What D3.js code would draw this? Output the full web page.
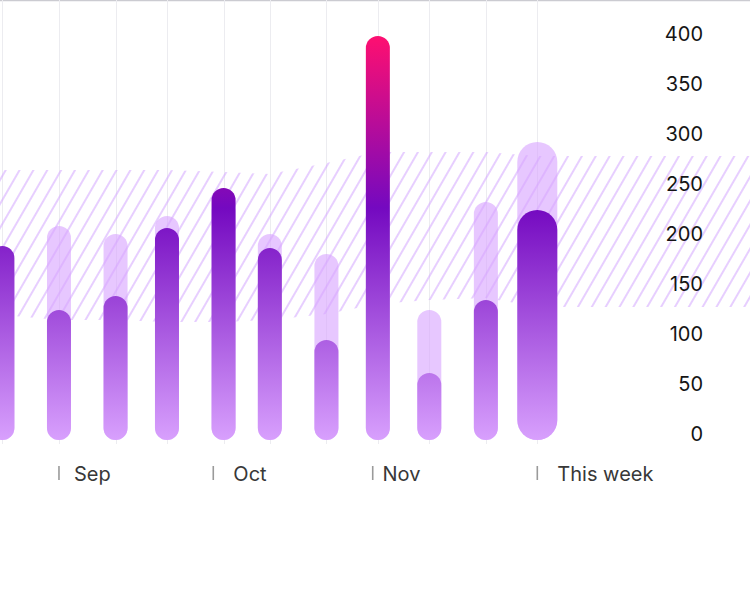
<!DOCTYPE html>
<html>
<head>
<meta charset="utf-8">
<script src="https://cdn.jsdelivr.net/npm/d3@7"></script>
<style>
  html, body { margin: 0; padding: 0; background: #fff; }
  svg { display: block; font-family: Inter, "Noto Sans", sans-serif; }
</style>
</head>
<body>
<svg id="chart" width="750" height="594"></svg>
<script>
// ---- data ----
const periods   = ["2023-08-21","2023-09-01","2023-09-12","2023-09-22","2023-10-03","2023-10-12","2023-10-23","2023-11-02","2023-11-12","2023-11-23","2023-12-03"];
const actual    = [194, 130, 144, 212, 252, 192, 100, 404, 67, 140, 230];
const target    = [180, 214, 206, 224, 240, 206, 186, 200, 130, 238, 298];
const bandHigh  = [270, 270, 270, 270, 268, 266, 277, 288, 288, 288, 284];
const bandLow   = [125, 120, 120, 118, 118, 120, 126, 136, 140, 142, 133];
const yTicks    = [0, 50, 100, 150, 200, 250, 300, 350, 400];
const monthTicks  = ["2023-09-01","2023-10-01","2023-11-01","2023-12-03"];
const labelDates  = ["2023-09-04","2023-10-05","2023-11-03","2023-12-07"];
const monthLabels = ["Sep","Oct","Nov","This week"];

// ---- layout ----
const W = 750, H = 594;
const parse = d3.utcParse("%Y-%m-%d");
const dates = periods.map(parse);
const svg = d3.select("#chart");

const x = d3.scaleUtc().domain([dates[0], dates[dates.length-1]]).range([2.4, 537.3]);
const y = d3.scaleLinear().domain([0, 400]).range([440, 40]);

const defs = svg.append("defs");
const pat = defs.append("pattern")
  .attr("id", "hatch").attr("patternUnits", "userSpaceOnUse")
  .attr("width", 12).attr("height", 12)
  .attr("patternTransform", "rotate(30)");
pat.append("line").attr("x1", 6).attr("x2", 6).attr("y1", 0).attr("y2", 12)
  .attr("stroke", "#d3a6ff").attr("stroke-width", 1.1);

const grad = defs.append("linearGradient")
  .attr("id", "barGrad").attr("gradientUnits", "userSpaceOnUse")
  .attr("x1", 0).attr("x2", 0).attr("y1", y(0)).attr("y2", y(400));
[[0, "#d8a0fd"], [0.58, "#7409c0"], [1, "#fb0f72"]].forEach(([o, c]) =>
  grad.append("stop").attr("offset", o).attr("stop-color", c));

// top border
svg.append("line").attr("x1", 0).attr("x2", W).attr("y1", 0.5).attr("y2", 0.5)
  .attr("stroke", "#cbcbd1").attr("stroke-width", 1.5);

// gridlines
svg.append("g").selectAll("line").data(dates).join("line")
  .attr("x1", d => Math.round(x(d)) + 0.5).attr("x2", d => Math.round(x(d)) + 0.5)
  .attr("y1", 0).attr("y2", y(0) + 4)
  .attr("stroke", "#ececf0").attr("stroke-width", 1);

// band
const bandData = dates.map((d, i) => ({date: d, high: bandHigh[i], low: bandLow[i]}));
bandData.unshift({date: x.invert(0), high: bandHigh[0], low: bandLow[0]});
bandData.push({date: x.invert(W), high: bandHigh[bandHigh.length-1], low: bandLow[bandLow.length-1]});
const area = d3.area().x(d => x(d.date)).y0(d => y(d.low)).y1(d => y(d.high));
svg.append("path").datum(bandData).attr("d", area).attr("fill", "url(#hatch)");

// bars
const barW = i => i === dates.length - 1 ? 40 : 24;
svg.append("g").selectAll("rect").data(target).join("rect")
  .attr("x", (d, i) => x(dates[i]) - barW(i) / 2)
  .attr("width", (d, i) => barW(i))
  .attr("y", d => y(d))
  .attr("height", d => y(0) - y(d))
  .attr("rx", (d, i) => barW(i) / 2)
  .attr("fill", "#d8a4ff").attr("fill-opacity", 0.62);

svg.append("g").selectAll("rect").data(actual).join("rect")
  .attr("x", (d, i) => x(dates[i]) - barW(i) / 2)
  .attr("width", (d, i) => barW(i))
  .attr("y", d => y(d))
  .attr("height", d => y(0) - y(d))
  .attr("rx", (d, i) => barW(i) / 2)
  .attr("fill", "url(#barGrad)");

// y labels
svg.append("g").selectAll("text").data(yTicks).join("text")
  .attr("x", 703).attr("y", d => y(d) + 1)
  .attr("text-anchor", "end")
  .attr("font-size", 20).attr("fill", "#151515")
  .text(d => d);

// x month ticks
const mt = monthTicks.map(parse);
const ld = labelDates.map(parse);
const xg = svg.append("g");
xg.selectAll("line").data(mt).join("line")
  .attr("x1", d => x(d)).attr("x2", d => x(d))
  .attr("y1", 466).attr("y2", 480)
  .attr("stroke", "#9a9a9a").attr("stroke-width", 1.6);
xg.selectAll("text").data(ld).join("text")
  .attr("x", d => x(d) - 0.5).attr("y", 480.5)
  .attr("font-size", 20).attr("fill", "#383838")
  .text((d, i) => monthLabels[i]);
</script>
</body>
</html>
